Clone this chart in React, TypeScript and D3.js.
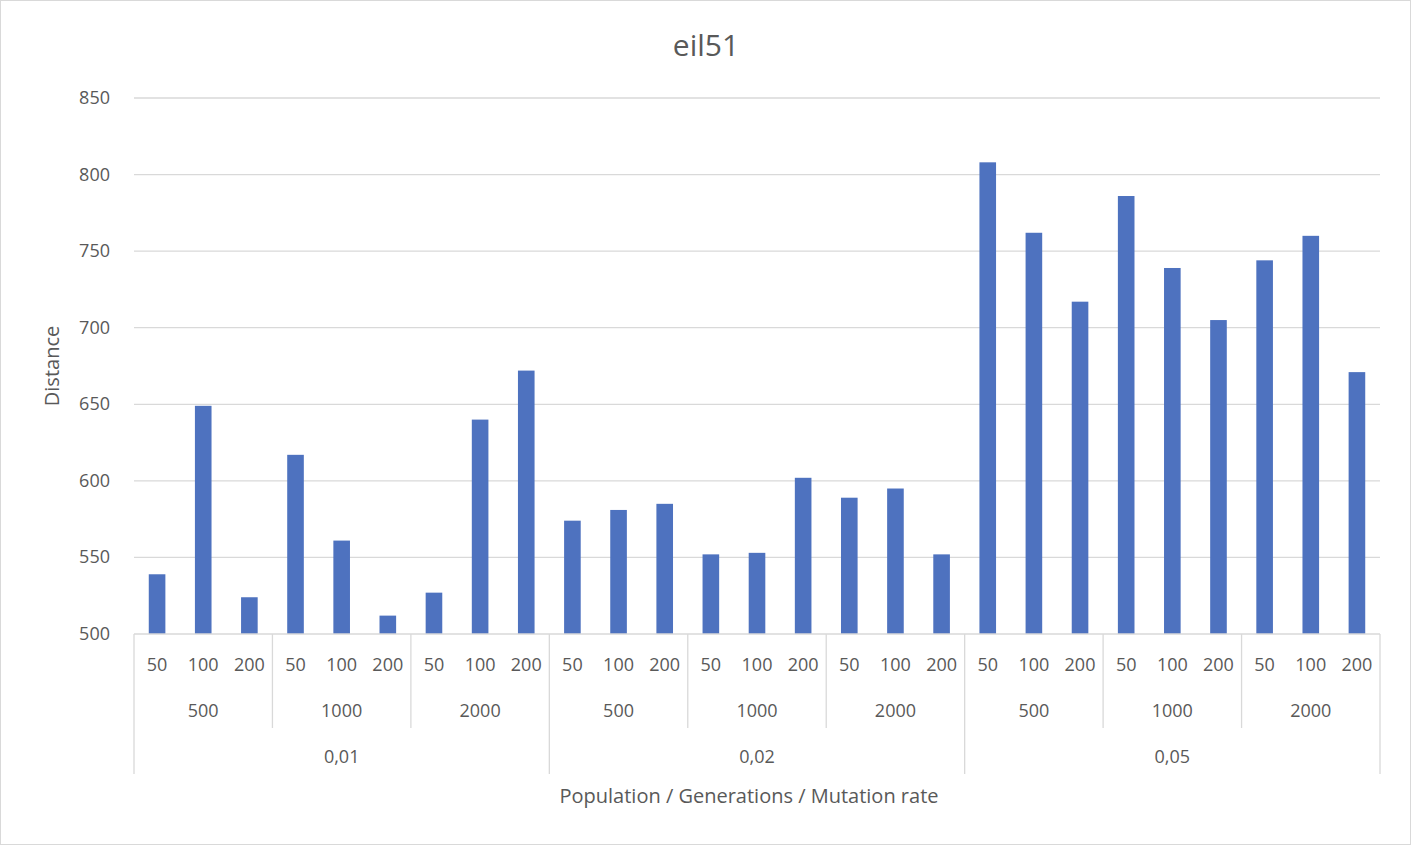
import * as d3 from 'd3'

const populations = ['50', '100', '200']
const generations = ['500', '1000', '2000']
const mutationRates = ['0,01', '0,02', '0,05']
const distances = [
  539, 649, 524, 617, 561, 512, 527, 640, 672,
  574, 581, 585, 552, 553, 602, 589, 595, 552,
  808, 762, 717, 786, 739, 705, 744, 760, 671,
]
const yTicks = [500, 550, 600, 650, 700, 750, 800, 850]

const W = 1412
const H = 846
const left = 134
const right = 1380
const top = 98
const base = 634
const font = '"Open Sans", "Noto Sans", sans-serif'
const textColor = '#595959'
const lineColor = '#d9d9d9'

export default function App() {
  const idx = d3.range(distances.length)
  const x = d3.scaleBand<number>().domain(idx).range([left, right]).paddingInner(0.64).paddingOuter(0.32)
  const step = (right - left) / distances.length
  const y = d3.scaleLinear().domain([500, 850]).range([base, top])

  const genGroups = d3.range(9)
  const rateGroups = d3.range(3)

  return (
    <svg width={W} height={H} style={{ position: 'absolute', left: 0, top: 0, fontFamily: font }}>
      <rect x={0.5} y={0.5} width={W - 2} height={H - 2} fill="#fff" stroke="#d9d9d9" />
      <text x={706} y={56} textAnchor="middle" fontSize={30} fill={textColor}>eil51</text>
      {yTicks.map(t => (
        <g key={t}>
          {t > 500 && <line x1={left} x2={right} y1={y(t)} y2={y(t)} stroke={lineColor} strokeWidth={1.3} />}
          <text x={110} y={y(t) + 6} textAnchor="end" fontSize={18} fill={textColor}>{t}</text>
        </g>
      ))}
      {idx.map(i => (
        <rect key={i} x={x(i)} y={y(distances[i])} width={x.bandwidth()} height={base - y(distances[i])} fill="#4e72bf" />
      ))}
      <line x1={left} x2={right} y1={base} y2={base} stroke={lineColor} strokeWidth={1.3} />
      {idx.map(i => (
        <text key={'p' + i} x={left + step * (i + 0.5)} y={671} textAnchor="middle" fontSize={18} fill={textColor}>
          {populations[i % 3]}
        </text>
      ))}
      {genGroups.map(g => (
        <g key={'g' + g}>
          <text x={left + step * (g * 3 + 1.5)} y={717} textAnchor="middle" fontSize={18} fill={textColor}>
            {generations[g % 3]}
          </text>
          {g % 3 !== 0 && (
            <line x1={left + step * g * 3} x2={left + step * g * 3} y1={base} y2={728} stroke={lineColor} strokeWidth={1.3} />
          )}
        </g>
      ))}
      {rateGroups.map(r => (
        <g key={'r' + r}>
          <text x={left + step * (r * 9 + 4.5)} y={763} textAnchor="middle" fontSize={18} fill={textColor}>
            {mutationRates[r]}
          </text>
          <line x1={left + step * r * 9} x2={left + step * r * 9} y1={base} y2={774} stroke={lineColor} strokeWidth={1.3} />
        </g>
      ))}
      <line x1={right} x2={right} y1={base} y2={774} stroke={lineColor} strokeWidth={1.3} />
      <text x={749} y={803} textAnchor="middle" fontSize={20} fill={textColor}>Population / Generations / Mutation rate</text>
      <text transform={`translate(59,${(top + base) / 2}) rotate(-90)`} textAnchor="middle" fontSize={20} fill={textColor}>Distance</text>
    </svg>
  )
}
